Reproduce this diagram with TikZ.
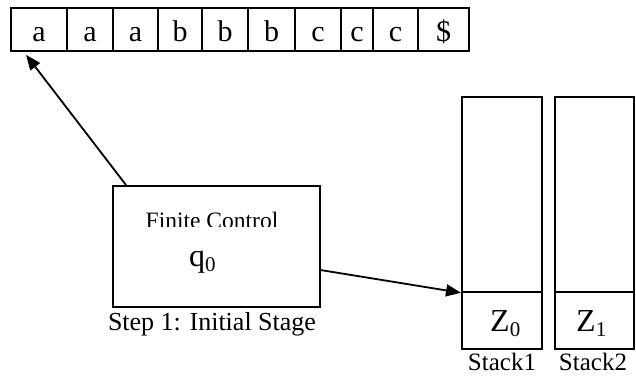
\documentclass[tikz,border=0pt]{standalone}
\usepackage{fontspec}
\setmainfont{Liberation Serif}
\usetikzlibrary{arrows.meta,calc}

\tikzset{
  box/.style={draw, line width=1.8pt, inner sep=0pt, anchor=north west},
  cell/.style={draw, line width=1.8pt, inner sep=0pt, minimum height=43pt,
               text height=24.4pt, text depth=0pt,
               font=\fontsize{30}{30}\selectfont},
  lbl/.style={inner sep=0pt, anchor=base},
  ptr/.style={line width=1.8pt, -{Triangle[length=15pt,width=12pt]}},
}
\newcommand{\lowsub}[1]{\raisebox{-5pt}{\fontsize{21}{21}\selectfont #1}}

\begin{document}
\begin{tikzpicture}[x=1pt,y=-1pt]
  \useasboundingbox (0,0) rectangle (636,377);

  % input tape
  \foreach \l/\r/\s [count=\i] in {11/67/a,67/113/a,113/158/a,158/202/b,
      202/248/b,248/295/b,295/341/c,341/373/c,373/418/c,418/469/\$}
    \node[cell, minimum width={(\r-\l)*1pt}] (t\i) at ({(\l+\r)/2},29.5) {\s};

  % finite control
  \node[box, minimum width=207pt, minimum height=121pt] (fc) at (112,185) {};
  \begin{scope}
    \clip (112,200) rectangle (319,226.5);
    \node[lbl, font=\fontsize{23.5}{23.5}\selectfont] (fctext) at (212,228.5) {Finite Control};
  \end{scope}
  \node[lbl, anchor=base west, font=\fontsize{32}{32}\selectfont] (state) at (189,266)
    {q\lowsub{0}};
  \node[lbl, font=\fontsize{26}{26}\selectfont] (step) at (212,330) {Step 1: Initial Stage};

  % stack 1
  \node[box, minimum width=80pt, minimum height=195pt] (s1top) at (461,96) {};
  \node[box, minimum width=80pt, minimum height=57pt] (s1bot) at (461,291) {};
  \node[lbl, anchor=base west, font=\fontsize{32}{32}\selectfont] (z0) at (490,331)
    {Z\lowsub{0}};
  \node[lbl, font=\fontsize{25}{25}\selectfont] (st1) at (502,370.5) {Stack1};

  % stack 2
  \node[box, minimum width=79pt, minimum height=195pt] (s2top) at (554,96) {};
  \node[box, minimum width=79pt, minimum height=57pt] (s2bot) at (554,291) {};
  \node[lbl, anchor=base west, font=\fontsize{32}{32}\selectfont] (z1) at (576,331)
    {Z\lowsub{1}};
  \node[lbl, font=\fontsize{25}{25}\selectfont] (st2) at (593,370.5) {Stack2};

  % read head and stack pointer
  \draw[ptr] ($(fc.north west)+(14,0)$) -- ($(t1.south west)+(16,3)$);
  \draw[ptr] ($(fc.east)+(-1,23.5)$) -- (s1top.south west);
\end{tikzpicture}
\end{document}
